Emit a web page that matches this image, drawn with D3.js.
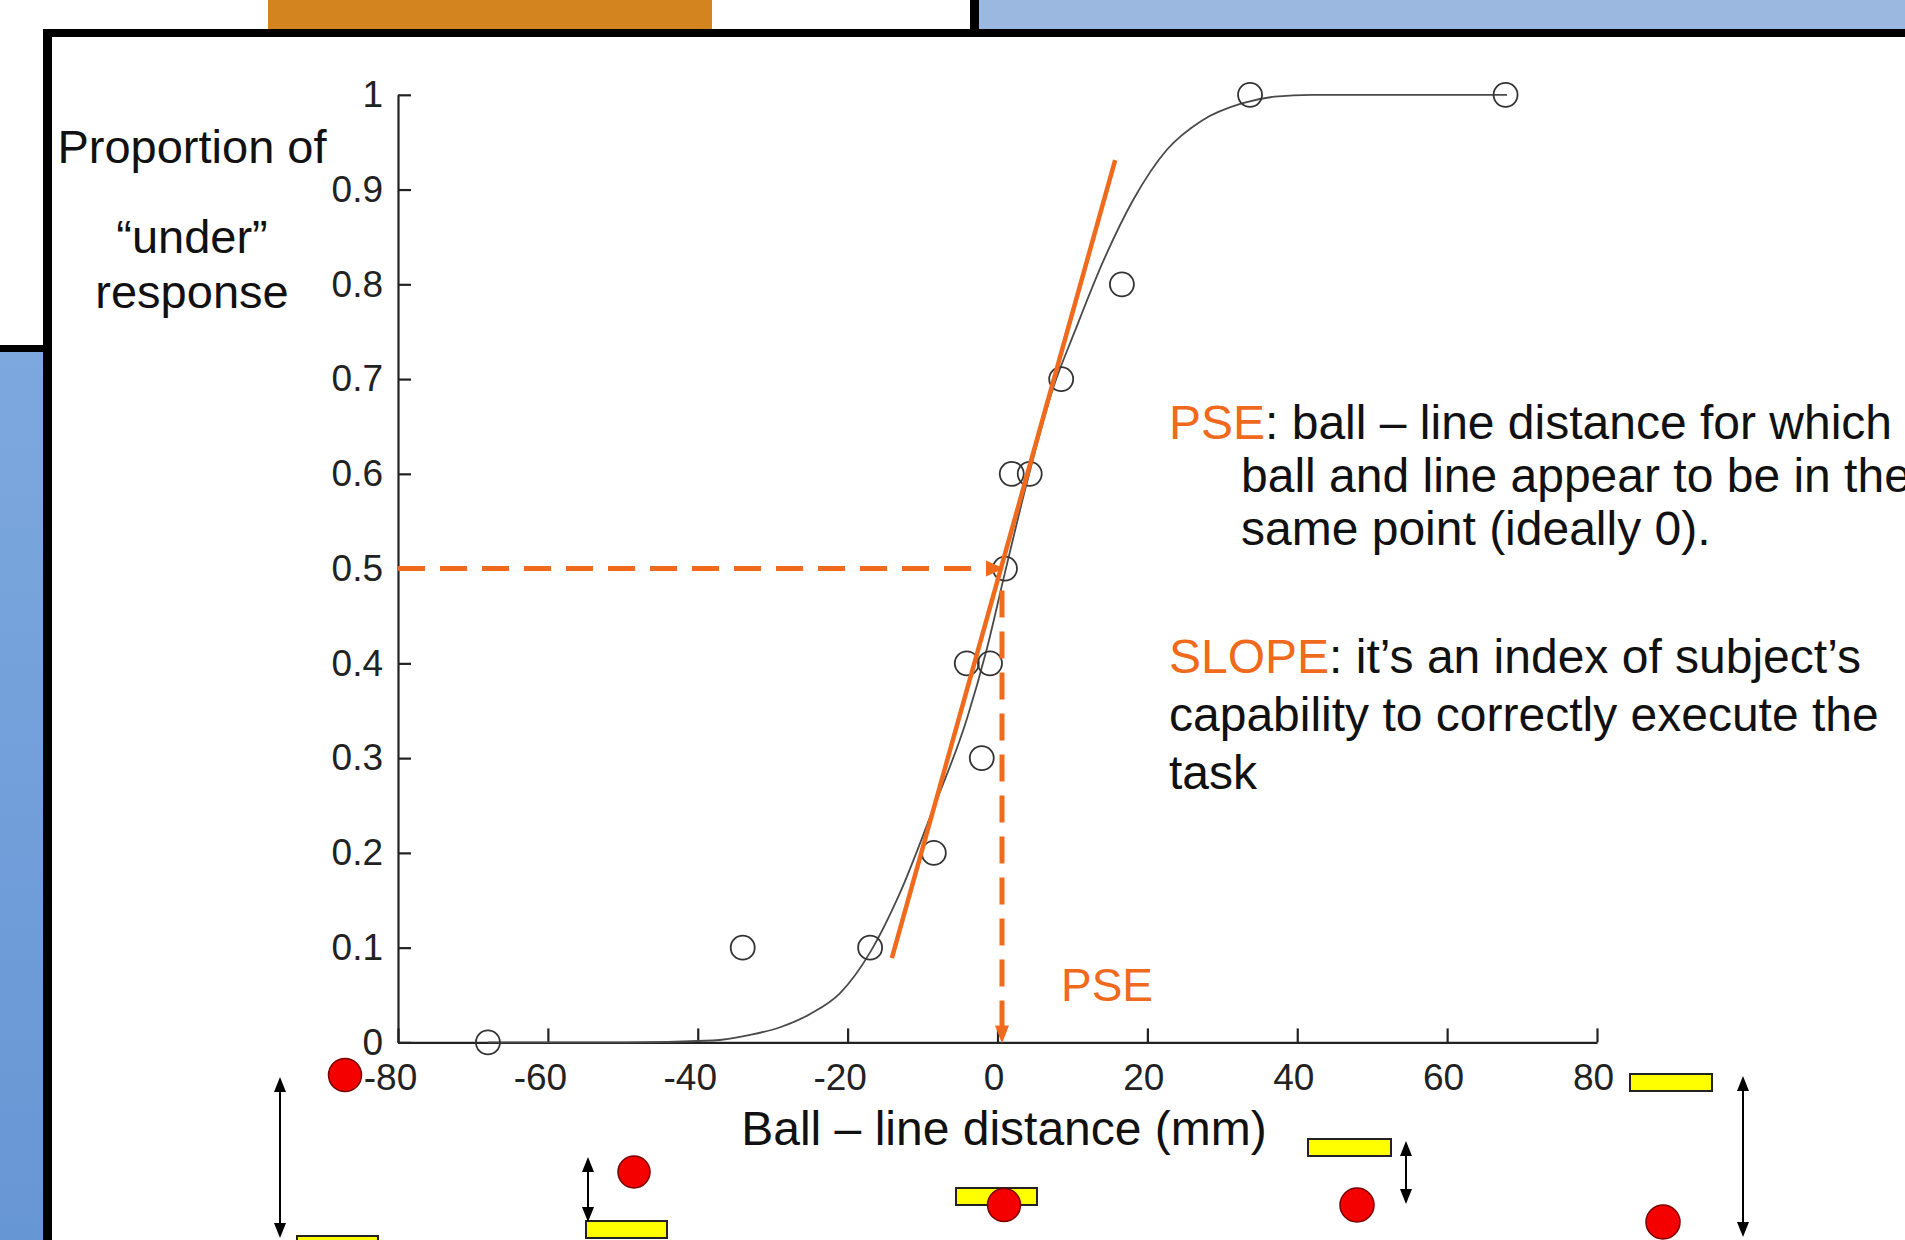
<!DOCTYPE html>
<html>
<head>
<meta charset="utf-8">
<script src="https://cdn.jsdelivr.net/npm/d3@7"></script>
<style>
  html, body { margin: 0; padding: 0; background: #fff; overflow: hidden; }
  svg { display: block; }
  text { font-family: "Liberation Sans", Arial, Helvetica, sans-serif; }
</style>
</head>
<body>
<svg id="chart" width="1905" height="1240"></svg>
<script>
// ---- data ----
const xTicks = [-80, -60, -40, -20, 0, 20, 40, 60, 80];
const yTicks = [0, 0.1, 0.2, 0.3, 0.4, 0.5, 0.6, 0.7, 0.8, 0.9, 1];
const stimDistance = [-68, -34, -17, -8.5, -4.1, -2.1, -1.0, 1.0, 1.9, 4.3, 8.5, 16.6, 33.7, 67.8];
const propUnder   = [0, 0.1, 0.1, 0.2, 0.4, 0.3, 0.4, 0.5, 0.6, 0.6, 0.7, 0.8, 1, 1];
const fitDistance = [-68, -50, -38, -33, -29, -25, -21, -17, -13, -8.6, -4.1, -1.4, 1.0, 3.9, 7.4, 10.3, 14.2, 18.1, 22.6, 27.3, 32.6, 37, 42, 55, 68];
const fitProp     = [0, 0, 0.002, 0.008, 0.016, 0.03, 0.052, 0.095, 0.158, 0.246, 0.341, 0.416, 0.496, 0.59, 0.69, 0.75, 0.826, 0.889, 0.942, 0.973, 0.991, 0.998, 1, 1, 1];
const pseValue = 0.6;
const slopeDistance = [-14.1, 15.7];
const slopeProp = [0.089, 0.931];
const yTitleLines = ["Proportion of", "\u201Cunder\u201D", "response"];
const xTitle = "Ball \u2013 line distance (mm)";

const svg = d3.select("#chart");
const ORANGE = "#ef6a1c";

// ---- background (slide frames) ----
svg.append("rect").attr("x", 0).attr("y", 0).attr("width", 1905).attr("height", 1240).attr("fill", "#fff");
svg.append("rect").attr("x", 268).attr("y", 0).attr("width", 444).attr("height", 29).attr("fill", "#d3841f");
svg.append("rect").attr("x", 970).attr("y", 0).attr("width", 9).attr("height", 29).attr("fill", "#000");
svg.append("rect").attr("x", 979).attr("y", 0).attr("width", 926).attr("height", 29).attr("fill", "#9bb9e0");
const defs = svg.append("defs");
const lg = defs.append("linearGradient").attr("id", "blueg").attr("x1", 0).attr("y1", 0).attr("x2", 0).attr("y2", 1);
lg.append("stop").attr("offset", "0").attr("stop-color", "#7da8de");
lg.append("stop").attr("offset", "1").attr("stop-color", "#6796d5");
svg.append("rect").attr("x", 0).attr("y", 345).attr("width", 43).attr("height", 7).attr("fill", "#000");
svg.append("rect").attr("x", 0).attr("y", 352).attr("width", 43).attr("height", 888).attr("fill", "url(#blueg)");
svg.append("rect").attr("x", 43).attr("y", 29).attr("width", 1862).attr("height", 1211).attr("fill", "#fff");
svg.append("rect").attr("x", 43).attr("y", 29).attr("width", 1862).attr("height", 8).attr("fill", "#000");
svg.append("rect").attr("x", 43).attr("y", 29).attr("width", 9).attr("height", 1211).attr("fill", "#000");

// ---- scales ----
const x = d3.scaleLinear().domain([-80, 80]).range([398, 1597]);
const y = d3.scaleLinear().domain([0, 1]).range([1042.4, 94.8]);

// ---- axes ----
const gx = svg.append("g").attr("transform", `translate(0,${y(0)})`)
  .call(d3.axisBottom(x).tickValues(xTicks).tickFormat(d => String(d))
    .tickSizeInner(-14).tickSizeOuter(0).tickPadding(21));
const gy = svg.append("g").attr("transform", `translate(${x(-80)},0)`)
  .call(d3.axisLeft(y).tickValues(yTicks).tickFormat(d => String(d))
    .tickSizeInner(-13).tickSizeOuter(0).tickPadding(15));
[gx, gy].forEach(g => {
  g.select(".domain").attr("stroke", "#222").attr("stroke-width", 2.2);
  g.selectAll(".tick line").attr("stroke", "#222").attr("stroke-width", 2.2);
  g.selectAll(".tick text").attr("fill", "#222").style("font-size", "37px")
    .style("font-family", "'Liberation Sans', Arial, sans-serif");
});
gx.selectAll(".tick text").attr("dx", d => d < 0 ? -8 : -4);

// ---- fitted psychometric curve ----
const fit = fitDistance.map((d, i) => [d, fitProp[i]]);
svg.append("path").datum(fit)
  .attr("fill", "none").attr("stroke", "#4a4a4a").attr("stroke-width", 1.8)
  .attr("d", d3.line().x(d => x(d[0])).y(d => y(d[1])).curve(d3.curveMonotoneX));

// ---- data points ----
svg.append("g").selectAll("circle").data(stimDistance.map((d, i) => [d, propUnder[i]]))
  .join("circle")
  .attr("cx", d => x(d[0])).attr("cy", d => y(d[1])).attr("r", 12)
  .attr("fill", "none").attr("stroke", "#333").attr("stroke-width", 1.8);

// ---- slope line ----
svg.append("line")
  .attr("x1", x(slopeDistance[0])).attr("y1", y(slopeProp[0]))
  .attr("x2", x(slopeDistance[1])).attr("y2", y(slopeProp[1]))
  .attr("stroke", ORANGE).attr("stroke-width", 4.5);

// ---- PSE dashed guides ----
const px = x(pseValue), py = y(0.5);
svg.append("line").attr("x1", x(-80)).attr("y1", py).attr("x2", px - 14).attr("y2", py)
  .attr("stroke", ORANGE).attr("stroke-width", 5).attr("stroke-dasharray", "27,15");
svg.append("path").attr("d", `M${px + 2},${py} L${px - 16},${py - 8} L${px - 16},${py + 8} Z`).attr("fill", ORANGE);
svg.append("line").attr("x1", px).attr("y1", py + 22).attr("x2", px).attr("y2", y(0) - 14)
  .attr("stroke", ORANGE).attr("stroke-width", 5).attr("stroke-dasharray", "27,14");
svg.append("path").attr("d", `M${px},${y(0) + 1} L${px - 7},${y(0) - 17} L${px + 7},${y(0) - 17} Z`).attr("fill", ORANGE);

// ---- texts ----
const yTitleBaselines = [163, 253, 308];
svg.append("g").selectAll("text").data(yTitleLines).join("text")
  .attr("x", 192).attr("y", (d, i) => yTitleBaselines[i])
  .attr("text-anchor", "middle").attr("fill", "#111").style("font-size", "47px")
  .text(d => d);

svg.append("text").attr("x", 1004).attr("y", 1145).attr("text-anchor", "middle")
  .attr("fill", "#111").style("font-size", "48px").text(xTitle);

svg.append("text").attr("x", 1061).attr("y", 1001).attr("fill", ORANGE)
  .style("font-size", "46px").text("PSE");

const notes = [
  {x: 1169, y: 439, parts: [["PSE", ORANGE], [": ball \u2013 line distance for which", "#111"]]},
  {x: 1241, y: 492, parts: [["ball and line appear to be in the", "#111"]]},
  {x: 1241, y: 545, parts: [["same point (ideally 0).", "#111"]]},
  {x: 1169, y: 673, parts: [["SLOPE", ORANGE], [": it\u2019s an index of subject\u2019s", "#111"]]},
  {x: 1169, y: 731, parts: [["capability to correctly execute the", "#111"]]},
  {x: 1169, y: 789, parts: [["task", "#111"]]}
];
notes.forEach(n => {
  const t = svg.append("text").attr("x", n.x).attr("y", n.y).style("font-size", "48px");
  n.parts.forEach(p => t.append("tspan").attr("fill", p[1]).text(p[0]));
});

// ---- illustrative icons below the axis (decoration layout) ----
const decorRects = [[297, 1236, 81, 18], [586, 1221, 81, 17], [956, 1188, 81, 17], [1308, 1139, 83, 17], [1630, 1074, 82, 17]];
const decorBalls = [[345, 1075, 16.5], [634, 1172, 16], [1004, 1205, 16.5], [1357, 1205, 17], [1663, 1222, 17]];
const decorArrows = [[280, 1077, 1238], [588, 1157, 1222], [1406, 1141, 1204], [1743, 1076, 1237]];
const dg = svg.append("g");
dg.selectAll("rect").data(decorRects).join("rect")
  .attr("x", d => d[0]).attr("y", d => d[1]).attr("width", d => d[2]).attr("height", d => d[3])
  .attr("fill", "#ffff00").attr("stroke", "#222").attr("stroke-width", 2);
dg.selectAll("circle").data(decorBalls).join("circle")
  .attr("cx", d => d[0]).attr("cy", d => d[1]).attr("r", d => d[2])
  .attr("fill", "#f50000").attr("stroke", "#7a0000").attr("stroke-width", 1.5);
decorArrows.forEach(a => {
  const [ax, y1, y2] = a;
  dg.append("line").attr("x1", ax).attr("y1", y1 + 10).attr("x2", ax).attr("y2", y2 - 10)
    .attr("stroke", "#000").attr("stroke-width", 2);
  dg.append("path").attr("d", `M${ax},${y1} L${ax - 6},${y1 + 15} L${ax + 6},${y1 + 15} Z`).attr("fill", "#000");
  dg.append("path").attr("d", `M${ax},${y2} L${ax - 6},${y2 - 15} L${ax + 6},${y2 - 15} Z`).attr("fill", "#000");
});
</script>
</body>
</html>
